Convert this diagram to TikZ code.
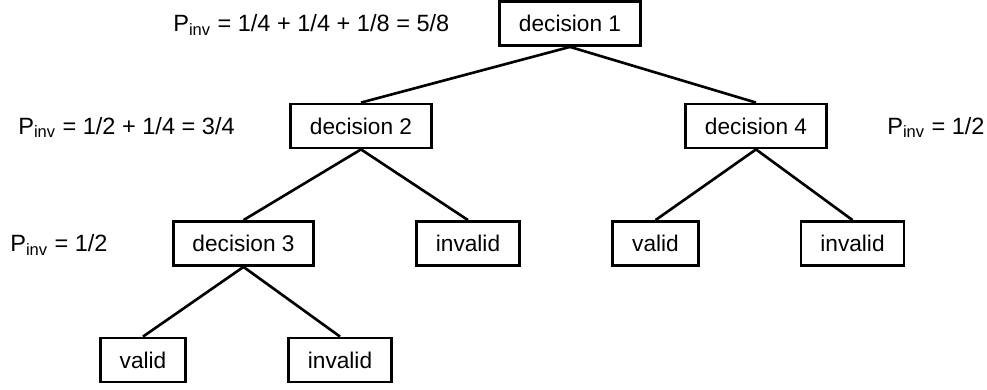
\documentclass[tikz,border=0pt]{standalone}
\usepackage{fontspec}
\setmainfont{Liberation Sans}
\usepackage{tikz}
\usetikzlibrary{positioning}

\begin{document}
\begin{tikzpicture}[
    every node/.style={font=\fontsize{12.9}{15}\selectfont},
    bx/.style={draw, line width=1.6pt, inner xsep=11pt, minimum height=0.88cm},
    e/.style={draw, line width=1.5pt},
    lbl/.style={anchor=base west, inner sep=0pt, font=\fontsize{13.4}{15}\selectfont}]
  \useasboundingbox (0,0) rectangle (19.74,-7.8);
  % Decisions
  \node[bx] (d1) at (11.40, -0.47) {decision 1};
  \node[bx] (d2) at (7.22, -2.52) {decision 2};
  \node[bx] (d4) at (15.12, -2.52) {decision 4};
  \node[bx] (d3) at (4.87, -4.87) {decision 3};
  % Outcomes
  \node[bx] (inv2) at (9.36, -4.87) {invalid};
  \node[bx] (val4) at (13.11, -4.87) {valid};
  \node[bx] (inv4) at (17.05, -4.87) {invalid};
  \node[bx] (val3) at (2.86, -7.2) {valid};
  \node[bx] (inv3) at (6.80, -7.2) {invalid};
  % Edges
  \draw[e] (d1.south) -- (d2.north);
  \draw[e] (d1.south) -- (d4.north);
  \draw[e] (d2.south) -- (d3.north);
  \draw[e] (d2.south) -- (inv2.north);
  \draw[e] (d4.south) -- (val4.north);
  \draw[e] (d4.south) -- (inv4.north);
  \draw[e] (d3.south) -- (val3.north);
  \draw[e] (d3.south) -- (inv3.north);
  % Probabilities
  \node[lbl] (p1) at (3.46,0 |- d1.base) {P\textsubscript{inv} = 1/4 + 1/4 + 1/8 = 5/8};
  \node[lbl] (p2) at (0.36,0 |- d2.base) {P\textsubscript{inv} = 1/2 + 1/4 = 3/4};
  \node[lbl] (p4) at (17.74,0 |- d4.base) {P\textsubscript{inv} = 1/2};
  \node[lbl] (p3) at (0.2,0 |- d3.base) {P\textsubscript{inv} = 1/2};
\end{tikzpicture}
\end{document}
